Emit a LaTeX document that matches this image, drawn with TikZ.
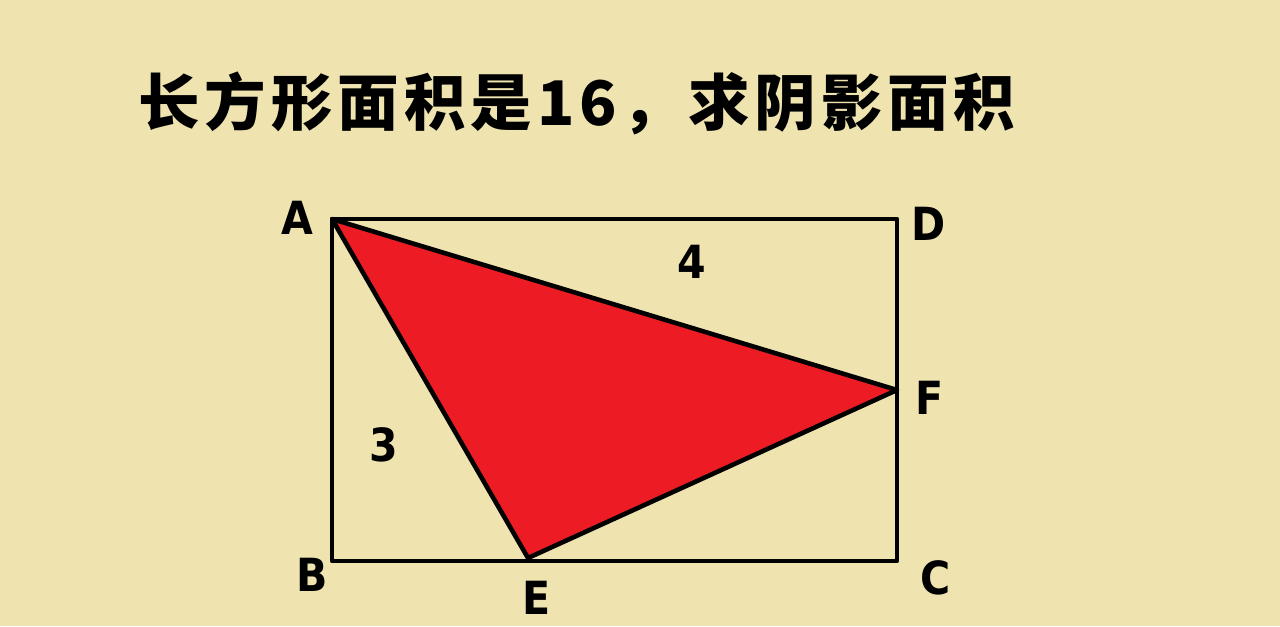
\documentclass[tikz,border=0pt]{standalone}
\usepackage{fontspec}
\newfontfamily\cjk[LetterSpace=8]{Noto Sans CJK SC}
\newfontfamily\lblfont{DejaVu Sans Condensed}
\definecolor{paper}{HTML}{EFE4B0}
\definecolor{shade}{HTML}{ED1C24}
\begin{document}
\begin{tikzpicture}[scale=1.0,
    edge/.style={line width=2.6pt, line join=round},
    ptlabel/.style={font=\lblfont\fontsize{26}{26}\selectfont\bfseries}]

  % Background
  \fill[paper] (0,0) rectangle (25.6,12.52);
  \useasboundingbox (0,0) rectangle (25.6,12.52);

  % Title
  \node[font=\cjk\fontsize{35}{35}\selectfont\bfseries] (title) at (11.54,10.46) {长方形面积是16，求阴影面积};

  % Corners
  \coordinate (A) at (6.64,8.14);
  \coordinate (D) at (17.94,8.14);
  \coordinate (B) at (6.64,1.30);
  \coordinate (C) at (17.94,1.30);
  \coordinate (E) at (10.56,1.36);
  \coordinate (F) at (17.94,4.72);

  % Shaded triangle
  \filldraw[edge, fill=shade] (A) -- (E) -- (F) -- cycle;

  % Rectangle
  \draw[edge] (A) -- (D) -- (C) -- (B) -- cycle;

  % Point labels
  \node[ptlabel] (lA) at (5.94,8.16) {A};
  \node[ptlabel] (lD) at (18.58,8.04) {D};
  \node[ptlabel] (lF) at (18.60,4.56) {F};
  \node[ptlabel] (lC) at (18.72,0.96) {C};
  \node[ptlabel] (lE) at (10.74,0.56) {E};
  \node[ptlabel] (lB) at (6.24,1.02) {B};

  % Given areas
  \node[ptlabel] (area4) at (13.84,7.28) {4};
  \node[ptlabel] (area3) at (7.68,3.62) {3};

\end{tikzpicture}
\end{document}
